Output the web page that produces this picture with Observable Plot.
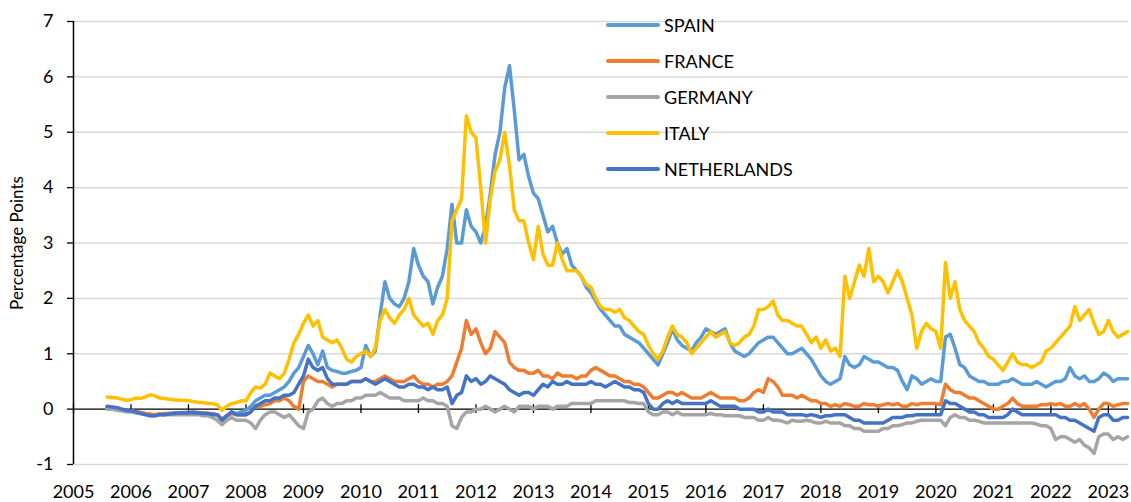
<!DOCTYPE html>
<html>
<head>
<meta charset="utf-8">
<script src="https://cdn.jsdelivr.net/npm/d3@7"></script>
<script src="https://cdn.jsdelivr.net/npm/@observablehq/plot@0.6"></script>
<style>
  body { margin: 0; background: #fff; }
  #chart { position: relative; width: 1131px; height: 502px; font-family: Lato, "Open Sans", sans-serif; }
  #legend { position: absolute; left: 606px; top: 7px; }
  .row { display: flex; align-items: center; height: 36px; font-size: 18px; color: #000; }
  .sw { width: 54px; height: 4px; border-radius: 2px; margin-right: 4px; }
</style>
</head>
<body>
<div id="chart"><div id="legend"></div></div>
<script>
// Series (monthly readings, Aug 2005 – May 2023)
const seriesNames = ["SPAIN", "FRANCE", "GERMANY", "ITALY", "NETHERLANDS"];
const seriesColors = ["#5B9BD5", "#ED7D31", "#A5A5A5", "#FFC000", "#4472C4"];
const firstYear = 2005, firstMonth = 7; // August 2005 (0-based month)
const yearTicks = [2005,2006,2007,2008,2009,2010,2011,2012,2013,2014,2015,2016,2017,2018,2019,2020,2021,2022,2023];
const yTicks = [-1,0,1,2,3,4,5,6,7];

const spain = [
  0.03, 0.03, 0.02, 0.0, -0.02,
  -0.03, -0.05, -0.06, -0.08, -0.1, -0.1, -0.09, -0.08, -0.08, -0.07, -0.07, -0.06,
  -0.06, -0.05, -0.06, -0.07, -0.08, -0.08, -0.1, -0.18, -0.12, -0.05, -0.08, -0.05,
  -0.02, 0.05, 0.15, 0.2, 0.25, 0.25, 0.3, 0.35, 0.4, 0.5, 0.65, 0.75,
  0.95, 1.15, 1.0, 0.8, 1.05, 0.75, 0.7, 0.68, 0.65, 0.65, 0.68, 0.7,
  0.75, 1.15, 0.95, 1.05, 1.7, 2.3, 2.0, 1.9, 1.85, 2.0, 2.3, 2.9,
  2.6, 2.4, 2.3, 1.9, 2.2, 2.4, 2.9, 3.7, 3.0, 3.0, 3.6, 3.3,
  3.2, 3.0, 3.3, 3.9, 4.6, 5.0, 5.8, 6.2, 5.4, 4.5, 4.6, 4.2,
  3.9, 3.8, 3.5, 3.2, 3.3, 3.0, 2.8, 2.9, 2.6, 2.5, 2.4, 2.2,
  2.1, 1.95, 1.8, 1.7, 1.6, 1.5, 1.5, 1.35, 1.3, 1.25, 1.2, 1.1,
  1.0, 0.9, 0.8, 1.0, 1.2, 1.45, 1.25, 1.15, 1.1, 1.05, 1.2, 1.3,
  1.45, 1.4, 1.35, 1.4, 1.45, 1.2, 1.05, 1.0, 0.95, 1.0, 1.1, 1.2,
  1.25, 1.3, 1.3, 1.2, 1.1, 1.0, 1.0, 1.05, 1.1, 1.0, 0.9, 0.75,
  0.6, 0.5, 0.45, 0.5, 0.55, 0.95, 0.8, 0.75, 0.8, 0.95, 0.9, 0.85,
  0.85, 0.8, 0.75, 0.75, 0.7, 0.5, 0.35, 0.6, 0.55, 0.45, 0.5, 0.55,
  0.5, 0.5, 1.3, 1.35, 1.1, 0.8, 0.75, 0.6, 0.55, 0.5, 0.5, 0.45,
  0.45, 0.45, 0.5, 0.5, 0.55, 0.5, 0.45, 0.45, 0.45, 0.5, 0.45, 0.4,
  0.45, 0.5, 0.5, 0.55, 0.75, 0.6, 0.55, 0.6, 0.5, 0.5, 0.55, 0.65,
  0.6, 0.5, 0.55, 0.55, 0.55
];
const france = [
  0.03, 0.02, 0.02, 0.0, -0.02,
  -0.03, -0.05, -0.06, -0.08, -0.09, -0.1, -0.09, -0.09, -0.08, -0.08, -0.07, -0.07,
  -0.07, -0.06, -0.07, -0.07, -0.08, -0.09, -0.1, -0.18, -0.12, -0.08, -0.1, -0.1,
  -0.1, -0.05, 0.05, 0.05, 0.08, 0.1, 0.15, 0.15, 0.2, 0.15, 0.05, 0.0,
  0.5, 0.6, 0.55, 0.5, 0.5, 0.45, 0.4, 0.45, 0.45, 0.45, 0.5, 0.5,
  0.5, 0.55, 0.5, 0.5, 0.55, 0.6, 0.55, 0.5, 0.5, 0.5, 0.55, 0.6,
  0.5, 0.45, 0.45, 0.4, 0.45, 0.45, 0.5, 0.6, 0.85, 1.1, 1.6, 1.35,
  1.45, 1.2, 1.0, 1.1, 1.4, 1.3, 1.2, 0.85, 0.75, 0.7, 0.7, 0.65,
  0.65, 0.7, 0.6, 0.6, 0.55, 0.65, 0.6, 0.6, 0.6, 0.55, 0.6, 0.6,
  0.7, 0.75, 0.7, 0.65, 0.6, 0.6, 0.55, 0.5, 0.5, 0.45, 0.45, 0.4,
  0.3, 0.2, 0.2, 0.25, 0.3, 0.3, 0.25, 0.3, 0.25, 0.2, 0.2, 0.2,
  0.25, 0.3, 0.25, 0.2, 0.2, 0.2, 0.2, 0.15, 0.15, 0.2, 0.3, 0.35,
  0.3, 0.55, 0.5, 0.4, 0.25, 0.25, 0.25, 0.2, 0.25, 0.2, 0.15, 0.15,
  0.1, 0.1, 0.05, 0.08, 0.05, 0.1, 0.08, 0.05, 0.05, 0.1, 0.08, 0.08,
  0.05, 0.08, 0.1, 0.08, 0.1, 0.05, 0.05, 0.1, 0.08, 0.1, 0.1, 0.1,
  0.1, 0.08, 0.45, 0.35, 0.3, 0.3, 0.25, 0.2, 0.2, 0.15, 0.1, 0.05,
  0.0, 0.0, 0.05, 0.1, 0.2, 0.1, 0.05, 0.05, 0.05, 0.05, 0.08, 0.08,
  0.1, 0.08, 0.1, 0.05, 0.05, 0.1, 0.05, 0.1, 0.0, -0.15, 0.0, 0.1,
  0.1, 0.05, 0.08, 0.1, 0.1
];
const germany = [
  0.0, 0.0, -0.02, -0.03, -0.05,
  -0.05, -0.07, -0.08, -0.1, -0.12, -0.12, -0.1, -0.1, -0.1, -0.1, -0.1, -0.1,
  -0.1, -0.1, -0.1, -0.12, -0.12, -0.15, -0.2, -0.28, -0.2, -0.15, -0.2, -0.2,
  -0.2, -0.25, -0.35, -0.2, -0.1, -0.05, -0.05, -0.1, -0.15, -0.1, -0.2, -0.3,
  -0.35, -0.05, 0.0, 0.15, 0.2, 0.1, 0.05, 0.1, 0.1, 0.15, 0.15, 0.2,
  0.2, 0.25, 0.25, 0.25, 0.3, 0.25, 0.2, 0.2, 0.2, 0.15, 0.15, 0.15,
  0.15, 0.2, 0.15, 0.15, 0.1, 0.1, 0.05, -0.3, -0.35, -0.15, -0.05, -0.05,
  0.0, 0.0, 0.05, 0.0, -0.05, 0.0, 0.05, 0.0, -0.05, 0.05, 0.05, 0.05,
  0.0, 0.05, 0.05, 0.05, 0.0, 0.05, 0.05, 0.05, 0.1, 0.1, 0.1, 0.1,
  0.1, 0.15, 0.15, 0.15, 0.15, 0.15, 0.15, 0.15, 0.12, 0.12, 0.1, 0.1,
  -0.05, -0.1, -0.1, -0.05, -0.05, -0.1, -0.05, -0.1, -0.1, -0.1, -0.1, -0.1,
  -0.1, -0.08, -0.1, -0.1, -0.12, -0.12, -0.12, -0.12, -0.15, -0.15, -0.15, -0.2,
  -0.2, -0.15, -0.2, -0.2, -0.22, -0.25, -0.2, -0.22, -0.22, -0.2, -0.22, -0.25,
  -0.25, -0.22, -0.25, -0.25, -0.25, -0.3, -0.3, -0.35, -0.35, -0.4, -0.4, -0.4,
  -0.4, -0.35, -0.35, -0.3, -0.3, -0.28, -0.25, -0.25, -0.22, -0.2, -0.2, -0.2,
  -0.2, -0.2, -0.3, -0.15, -0.1, -0.15, -0.15, -0.2, -0.2, -0.22, -0.25, -0.25,
  -0.25, -0.25, -0.25, -0.25, -0.25, -0.25, -0.25, -0.25, -0.25, -0.27, -0.3, -0.3,
  -0.35, -0.55, -0.5, -0.5, -0.55, -0.6, -0.55, -0.65, -0.7, -0.8, -0.5, -0.45,
  -0.45, -0.55, -0.5, -0.55, -0.5
];
const italy = [
  0.22, 0.21, 0.2, 0.18, 0.16,
  0.17, 0.2, 0.19, 0.22, 0.26, 0.24, 0.2, 0.19, 0.18, 0.17, 0.16, 0.16,
  0.15, 0.14, 0.12, 0.12, 0.1, 0.1, 0.08, -0.02, 0.05, 0.1, 0.12, 0.15,
  0.15, 0.3, 0.4, 0.38, 0.45, 0.65, 0.6, 0.55, 0.65, 0.9, 1.2, 1.35,
  1.55, 1.7, 1.5, 1.6, 1.3, 1.25, 1.2, 1.25, 1.1, 0.9, 0.85, 0.95,
  1.0, 1.05, 0.95, 1.1, 1.6, 1.8, 1.65, 1.55, 1.7, 1.8, 2.0, 1.7,
  1.6, 1.5, 1.55, 1.35, 1.6, 1.7, 2.0, 3.4, 3.6, 3.8, 5.3, 5.0,
  4.9, 4.0, 3.0, 3.8, 4.3, 4.5, 5.0, 4.4, 3.6, 3.4, 3.4, 3.0,
  2.7, 3.3, 2.8, 2.6, 2.6, 3.0, 2.7, 2.5, 2.5, 2.5, 2.4, 2.25,
  2.2, 2.0, 1.85, 1.8, 1.8, 1.75, 1.8, 1.65, 1.6, 1.5, 1.4, 1.35,
  1.15, 1.0, 0.9, 1.05, 1.3, 1.5, 1.35, 1.3, 1.2, 1.0, 1.1, 1.2,
  1.3, 1.4, 1.3, 1.35, 1.4, 1.2, 1.15, 1.2, 1.3, 1.35, 1.5, 1.8,
  1.8, 1.85, 1.95, 1.7, 1.6, 1.6, 1.55, 1.5, 1.5, 1.35, 1.2, 1.3,
  1.1, 1.25, 1.05, 1.1, 0.95, 2.4, 2.0, 2.3, 2.6, 2.4, 2.9, 2.3,
  2.4, 2.3, 2.1, 2.3, 2.5, 2.3, 2.0, 1.7, 1.1, 1.4, 1.55, 1.45,
  1.4, 1.1, 2.65, 2.0, 2.3, 1.8, 1.6, 1.5, 1.4, 1.2, 1.1, 0.95,
  0.9, 0.8, 0.7, 0.85, 1.0, 0.85, 0.8, 0.8, 0.75, 0.8, 0.85, 1.05,
  1.1, 1.2, 1.3, 1.4, 1.5, 1.85, 1.6, 1.7, 1.8, 1.55, 1.35, 1.4,
  1.6, 1.4, 1.3, 1.35, 1.4
];
const netherlands = [
  0.05, 0.04, 0.03, 0.0, -0.02,
  -0.03, -0.05, -0.08, -0.1, -0.12, -0.12, -0.1, -0.1, -0.09, -0.08, -0.07, -0.07,
  -0.07, -0.06, -0.07, -0.08, -0.08, -0.1, -0.1, -0.2, -0.12, -0.05, -0.1, -0.1,
  -0.1, -0.05, 0.05, 0.1, 0.15, 0.15, 0.2, 0.2, 0.25, 0.25, 0.3, 0.45,
  0.6, 0.9, 0.75, 0.7, 0.75, 0.55, 0.45, 0.45, 0.45, 0.45, 0.5, 0.5,
  0.5, 0.55, 0.5, 0.45, 0.5, 0.55, 0.5, 0.45, 0.4, 0.4, 0.45, 0.45,
  0.4, 0.4, 0.35, 0.4, 0.35, 0.35, 0.4, 0.1, 0.25, 0.3, 0.6, 0.5,
  0.55, 0.45, 0.5, 0.6, 0.55, 0.5, 0.45, 0.35, 0.3, 0.25, 0.3, 0.3,
  0.25, 0.35, 0.45, 0.4, 0.5, 0.45, 0.45, 0.5, 0.45, 0.45, 0.45, 0.45,
  0.5, 0.45, 0.45, 0.4, 0.45, 0.5, 0.45, 0.4, 0.4, 0.35, 0.35, 0.3,
  0.1, 0.0, 0.0, 0.1, 0.15, 0.1, 0.15, 0.1, 0.1, 0.1, 0.1, 0.1,
  0.1, 0.15, 0.1, 0.05, 0.05, 0.05, 0.05, 0.0, 0.0, 0.0, 0.0, -0.05,
  -0.05, 0.0, -0.05, -0.05, -0.05, -0.1, -0.1, -0.1, -0.1, -0.12, -0.1, -0.12,
  -0.15, -0.12, -0.12, -0.1, -0.1, -0.1, -0.15, -0.2, -0.2, -0.25, -0.25, -0.25,
  -0.25, -0.25, -0.2, -0.15, -0.15, -0.15, -0.12, -0.12, -0.1, -0.1, -0.1, -0.1,
  -0.1, -0.1, 0.15, 0.1, 0.1, 0.05, 0.0, -0.05, -0.05, -0.1, -0.1, -0.15,
  -0.15, -0.15, -0.15, -0.1, 0.0, -0.05, -0.1, -0.1, -0.1, -0.1, -0.1, -0.1,
  -0.1, -0.1, -0.15, -0.15, -0.2, -0.2, -0.25, -0.3, -0.35, -0.4, -0.15, -0.1,
  -0.1, -0.2, -0.2, -0.15, -0.15
];

const seriesValues = [spain, france, germany, italy, netherlands];
const rows = [];
seriesNames.forEach((name, k) => {
  seriesValues[k].forEach((v, i) => {
    rows.push({t: firstYear + (firstMonth + i) / 12, v, s: name});
  });
});

const tickHalf = 0.08; // half-length of the x tick marks that cross the zero line, in axis units

const chart = Plot.plot({
  width: 1131,
  height: 502,
  marginLeft: 73,
  marginRight: 3,
  marginTop: 21,
  marginBottom: 38,
  style: {fontFamily: "Lato, 'Open Sans', sans-serif", fontSize: "18px", color: "#000", background: "#fff", overflow: "visible"},
  x: {domain: [2005, 2023.35]},
  y: {domain: [-1, 7]},
  color: {domain: seriesNames, range: seriesColors},
  marks: [
    Plot.ruleY(yTicks.filter(d => d !== 0), {stroke: "#d9d9d9", strokeWidth: 1.5}),
    Plot.ruleY([0], {stroke: "#000", strokeWidth: 1.3}),
    Plot.ruleX(yearTicks, {x: d => d, y1: () => -tickHalf, y2: () => tickHalf, stroke: "#000", strokeWidth: 1.3}),
    Plot.ruleX([2005], {stroke: "#000", strokeWidth: 1.5}),
    Plot.line(rows, {x: "t", y: "v", z: "s", stroke: "s", strokeWidth: 3.5, strokeLinejoin: "round", strokeLinecap: "round"}),
    Plot.axisY({ticks: yTicks, tickSize: 6, tickPadding: 14, label: null, tickFormat: d => String(d), stroke: "#000", strokeWidth: 1.3}),
    Plot.axisX({ticks: yearTicks, tickSize: 0, tickPadding: 21, label: null, tickFormat: d => String(d)}),
    Plot.text(["Percentage Points"], {frameAnchor: "left", dx: -56, rotate: -90, textAnchor: "middle", fontSize: 17})
  ]
});
document.getElementById("chart").prepend(chart);

const legend = d3.select("#legend");
seriesNames.forEach((name, k) => {
  const row = legend.append("div").attr("class", "row");
  row.append("div").attr("class", "sw").style("background", seriesColors[k]);
  row.append("span").text(name);
});
</script>
</body>
</html>
